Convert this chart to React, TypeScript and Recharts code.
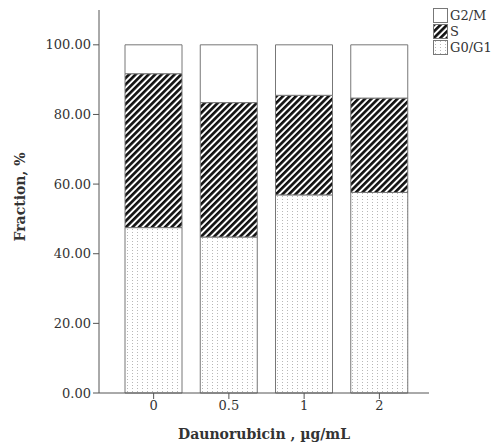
import { BarChart, Bar, XAxis, YAxis } from 'recharts';

const doses = ['0', '0.5', '1', '2'];
const g0g1 = [47.5, 44.8, 56.9, 57.6];
const sPhase = [44.2, 38.6, 28.6, 27.1];
const g2m = [8.3, 16.6, 14.5, 15.3];
const yTicks = [0, 20, 40, 60, 80, 100];

const data = doses.map((d, i) => ({ dose: d, g0g1: g0g1[i], s: sPhase[i], g2m: g2m[i] }));

const font = '"DejaVu Serif", serif';
const axisColor = '#555';
const barStroke = '#777';

const legendItems = [
  { label: 'G2/M', fill: '#fff' },
  { label: 'S', fill: 'url(#stripes)' },
  { label: 'G0/G1', fill: 'url(#dots)' },
];

function ChartLegend() {
  return (
    <div style={{ position: 'absolute', left: 433, top: 7, fontFamily: font, fontSize: 13, color: '#333' }}>
      {legendItems.map((it) => (
        <div key={it.label} style={{ display: 'flex', alignItems: 'center', height: 16 }}>
          <svg width={15} height={15} style={{ marginRight: 2 }}>
            <rect x={0.5} y={0.5} width={14} height={14} fill={it.fill} stroke={barStroke} />
          </svg>
          <span>{it.label}</span>
        </div>
      ))}
    </div>
  );
}

export default function App() {
  return (
    <div style={{ position: 'absolute', left: 0, top: 0, width: 493, height: 444, background: '#fff' }}>
      <svg width={0} height={0} style={{ position: 'absolute' }}>
        <defs>
          <pattern id="stripes" width={4.6} height={4.6} patternUnits="userSpaceOnUse" patternTransform="rotate(45)">
            <rect x={0} y={0} width={2.7} height={4.6} fill="#111" />
            <rect x={2.7} y={0} width={1.9} height={4.6} fill="#fff" />
          </pattern>
          <pattern id="dots" width={5} height={3} patternUnits="userSpaceOnUse">
            <rect x={0} y={0} width={5} height={3} fill="#fff" />
            <rect x={2} y={1} width={1} height={1} fill="#b8b8b8" />
          </pattern>
        </defs>
      </svg>
      <BarChart width={493} height={444} data={data} margin={{ top: 10, right: 64, bottom: 0, left: 0 }}>
        <XAxis
          dataKey="dose"
          padding={{ left: 17, right: 12 }}
          stroke={axisColor}
          tickSize={6}
          tick={{ fill: '#333', fontSize: 13, fontFamily: font }}
          height={51}
          label={{ value: 'Daunorubicin , µg/mL', position: 'insideBottom', offset: 5, fill: '#333', fontSize: 14, fontWeight: 'bold', fontFamily: font }}
        />
        <YAxis
          domain={[0, 110]}
          ticks={yTicks}
          width={99}
          stroke={axisColor}
          tickSize={6}
          tickFormatter={(v: number) => v.toFixed(2)}
          tick={{ fill: '#333', fontSize: 13, fontFamily: font }}
          label={{ value: 'Fraction, %', angle: -90, position: 'insideLeft', offset: 20, dy: 40, fill: '#333', fontSize: 14, fontWeight: 'bold', fontFamily: font }}
        />
        <Bar dataKey="g0g1" stackId="a" fill="url(#dots)" stroke={barStroke} strokeWidth={1} barSize={57} isAnimationActive={false} />
        <Bar dataKey="s" stackId="a" fill="url(#stripes)" stroke={barStroke} strokeWidth={1} barSize={57} isAnimationActive={false} />
        <Bar dataKey="g2m" stackId="a" fill="#fff" stroke={barStroke} strokeWidth={1} barSize={57} isAnimationActive={false} />
      </BarChart>
      <ChartLegend />
    </div>
  );
}
